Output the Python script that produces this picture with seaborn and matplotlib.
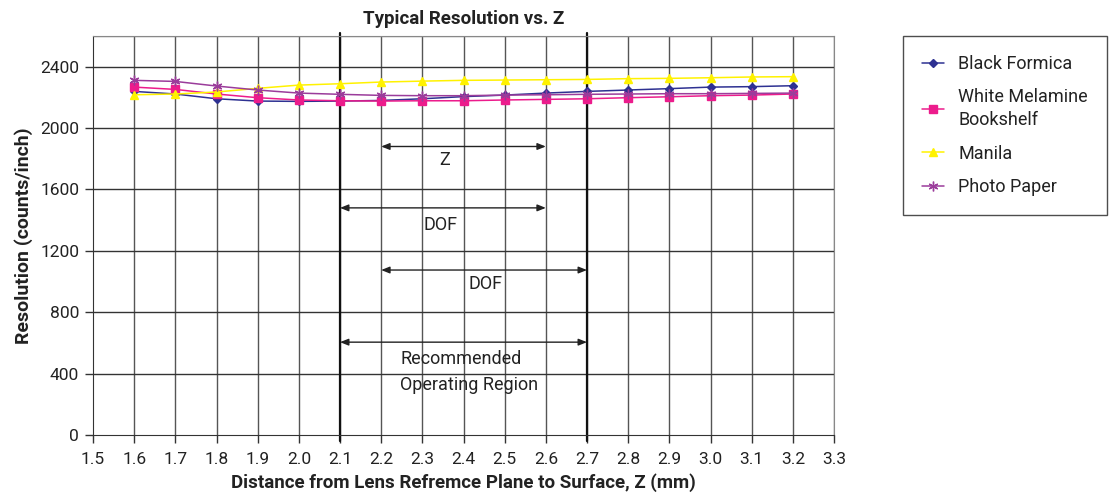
import numpy as np
import pandas as pd
import matplotlib
matplotlib.use("Agg")
import matplotlib.pyplot as plt
import seaborn as sns

# data
z_mm = [1.6, 1.7, 1.8, 1.9, 2.0, 2.1, 2.2, 2.3, 2.4, 2.5, 2.6, 2.7, 2.8, 2.9, 3.0, 3.1, 3.2]
black_formica = [2239, 2222, 2191, 2176, 2174, 2176, 2180, 2191, 2205, 2215, 2228, 2239, 2248, 2257, 2267, 2270, 2276]
white_melamine = [2267, 2252, 2222, 2198, 2183, 2178, 2176, 2178, 2178, 2183, 2187, 2191, 2198, 2204, 2211, 2215, 2222]
manila = [2217, 2222, 2235, 2259, 2280, 2289, 2300, 2306, 2311, 2313, 2315, 2317, 2322, 2324, 2328, 2333, 2335]
photo_paper = [2311, 2304, 2274, 2248, 2228, 2220, 2213, 2211, 2211, 2215, 2217, 2220, 2222, 2224, 2224, 2226, 2228]

series_names = ["Black Formica", "White Melamine\nBookshelf", "Manila", "Photo Paper"]
x_ticks = [1.5, 1.6, 1.7, 1.8, 1.9, 2.0, 2.1, 2.2, 2.3, 2.4, 2.5, 2.6, 2.7, 2.8, 2.9, 3.0, 3.1, 3.2, 3.3]
y_ticks = [0, 400, 800, 1200, 1600, 2000, 2400]

df = pd.DataFrame({
    "z": z_mm * 4,
    "res": black_formica + white_melamine + manila + photo_paper,
    "surface": np.repeat(series_names, len(z_mm)),
})

sns.set_style("white")
plt.rcParams["font.family"] = ["Roboto", "DejaVu Sans"]

colors = {
    "Black Formica": "#2e3192",
    "White Melamine\nBookshelf": "#ec1c8c",
    "Manila": "#fff200",
    "Photo Paper": "#9b3c9b",
}
markers = {
    "Black Formica": "D",
    "White Melamine\nBookshelf": "s",
    "Manila": "^",
    "Photo Paper": (6, 2, 0),
}
msizes = {"Black Formica": 4, "White Melamine\nBookshelf": 5.5, "Manila": 6, "Photo Paper": 7}

fig = plt.figure(figsize=(11.13, 5), dpi=100)
ax = fig.add_axes([93 / 1113, 1 - 435 / 500, (834 - 93) / 1113, (435 - 36) / 500])

for name in series_names:
    sub = df[df["surface"] == name]
    sns.lineplot(data=sub, x="z", y="res", ax=ax, color=colors[name], marker=markers[name],
                 markersize=msizes[name], markeredgecolor=colors[name], markeredgewidth=1,
                 linewidth=1.1, label=name, zorder=4)

ax.set_xlim(1.5, 3.3)
ax.set_ylim(0, 2600)
ax.set_xticks(x_ticks)
ax.set_xticklabels([f"{v:.1f}" for v in x_ticks])
ax.set_yticks(y_ticks)
ax.tick_params(axis="both", labelsize=12.5, length=6, width=1, color="#333333", direction="out",
               labelcolor="#222222")
ax.tick_params(axis="x", bottom=True, pad=6)
ax.tick_params(axis="y", left=True, pad=4)

# grid
for xv in x_ticks[1:]:
    ax.axvline(xv, color="#555555", lw=1, zorder=1)
for yv in y_ticks[1:] + [2600]:
    ax.axhline(yv, color="#333333" if yv < 2600 else "#888888", lw=1, zorder=1)
for xv in [2.1, 2.7]:
    ax.axvline(xv, ymin=-0.015, ymax=1.008, color="#111111", lw=1.6, zorder=2, clip_on=False)

for side in ["top", "right"]:
    ax.spines[side].set_color("#888888")
for side in ["left", "bottom"]:
    ax.spines[side].set_color("#333333")

ax.set_title("Typical Resolution vs. Z", fontsize=13.5, fontweight="bold", pad=9, color="#222222")
ax.set_xlabel("Distance from Lens Refremce Plane to Surface, Z (mm)", fontsize=13.5, fontweight="bold",
              labelpad=5, color="#222222")
ax.set_ylabel("Resolution (counts/inch)", fontsize=14, fontweight="bold", labelpad=5, color="#222222")

# range arrows
arrow_kw = dict(arrowstyle="<|-|>,head_length=0.5,head_width=0.2", color="#222222", lw=1, shrinkA=0, shrinkB=0)
spans = [(2.2, 2.6, 1880), (2.1, 2.6, 1480), (2.2, 2.7, 1075), (2.1, 2.7, 605)]
for x0, x1, yv in spans:
    ax.annotate("", xy=(x0, yv), xytext=(x1, yv), arrowprops=arrow_kw, zorder=5)
ax.text(2.355, 1790, "Z", fontsize=13, ha="center", va="center", color="#222222")
ax.text(2.343, 1370, "DOF", fontsize=13, ha="center", va="center", color="#222222")
ax.text(2.453, 985, "DOF", fontsize=13, ha="center", va="center", color="#222222")
ax.text(2.246, 410, "Recommended\nOperating Region", fontsize=13, ha="left", va="center",
        color="#222222", linespacing=1.55)

handles, labels = ax.get_legend_handles_labels()
leg = ax.legend(handles, labels, loc="upper left", bbox_to_anchor=(903 / 1113, 1 - 36 / 500),
                bbox_transform=fig.transFigure, frameon=True, fancybox=False, edgecolor="#222222",
                fontsize=13, labelspacing=0.85, handlelength=1.2, handletextpad=0.8,
                borderpad=1.05, borderaxespad=0, labelcolor="#222222")
leg.get_frame().set_linewidth(1)
for t in leg.get_texts():
    t.set_linespacing(1.35)

fig.savefig("out.png", dpi=100)
